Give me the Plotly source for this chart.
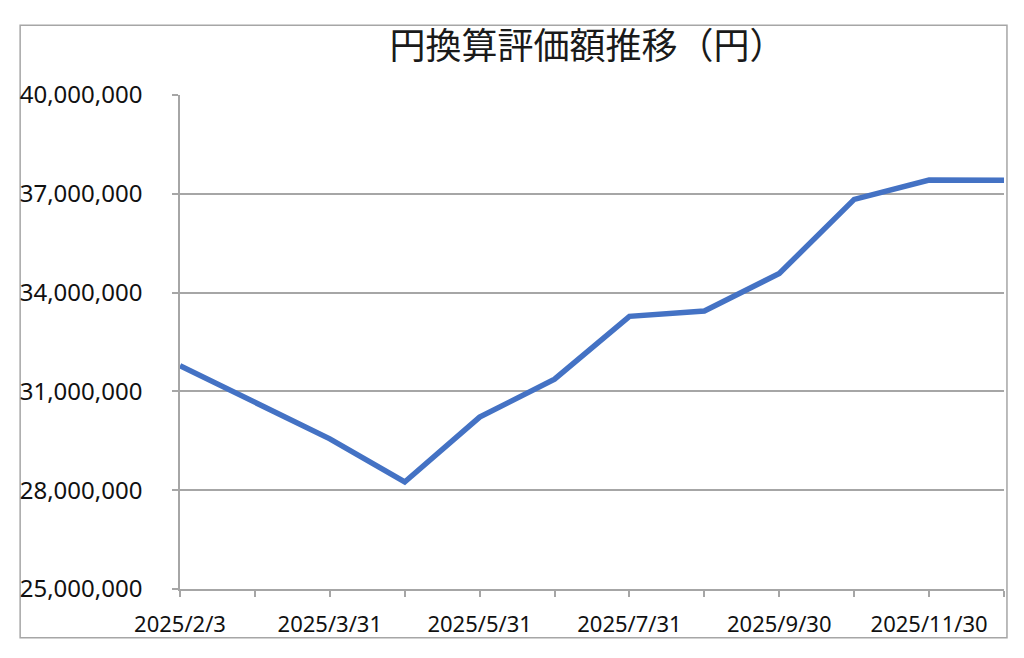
import plotly.graph_objects as go

# month-end valuation dates (only every other one is labelled on the axis)
dates = ['2025/2/3', '2025/2/28', '2025/3/31', '2025/4/30', '2025/5/31', '2025/6/30',
         '2025/7/31', '2025/8/31', '2025/9/30', '2025/10/31', '2025/11/30', '2025/12/31']
values = [31780000, 30680000, 29560000, 28250000, 30220000, 31370000,
          33280000, 33440000, 34580000, 36830000, 37420000, 37410000]
y_ticks = [25000000, 28000000, 31000000, 34000000, 37000000, 40000000]

title = '円換算評価額推移（円）'
grey = '#a6a6a6'

idx = list(range(len(dates)))

fig = go.Figure()
fig.add_trace(go.Scatter(x=idx, y=values, mode='lines',
                         line=dict(color='#4472C4', width=5.5),
                         hovertemplate='%{text}<br>%{y:,}円<extra></extra>',
                         text=dates))

# page body has an 8px margin, so the figure is sized a bit smaller
fig.update_layout(
    width=1008, height=642,
    margin=dict(l=172, r=12, t=87, b=59),
    paper_bgcolor='white', plot_bgcolor='white',
    showlegend=False,
    title=dict(text=title, x=0.575, xanchor='center', y=0.9408, yanchor='middle',
               font=dict(family='Noto Sans CJK JP', size=36, color='#1a1a1a')),
    font=dict(family='Noto Sans', color='#111111'),
)

fig.update_xaxes(
    range=[0, len(dates) - 1],
    tickmode='array', tickvals=idx[::2], ticktext=dates[::2],
    tickfont=dict(size=22, family='Noto Sans'),
    ticks='outside', ticklen=6, tickcolor=grey, tickwidth=1.5,
    minor=dict(dtick=1, ticks='outside', ticklen=6, tickcolor=grey, tickwidth=1.5, showgrid=False),
    showline=True, linecolor=grey, linewidth=1.5,
    showgrid=False, zeroline=False,
    ticklabelstandoff=9,
)

fig.update_yaxes(
    range=[y_ticks[0], y_ticks[-1]],
    tickmode='array', tickvals=y_ticks, tickformat=',',
    tickfont=dict(size=24, family='Noto Sans'),
    ticks='outside', ticklen=6, tickcolor=grey, tickwidth=1.5,
    showline=True, linecolor=grey, linewidth=1.5,
    showgrid=True, gridcolor=grey, gridwidth=1.5,
    zeroline=False,
    ticklabelstandoff=25,
)

# outer chart border like the spreadsheet chart frame
fig.add_shape(type='rect', xref='paper', yref='paper',
              x0=-0.194, x1=1.0036, y0=-0.0988, y1=1.141,
              line=dict(color=grey, width=1.5), fillcolor='rgba(0,0,0,0)', layer='below')

fig.write_html('out.html')
